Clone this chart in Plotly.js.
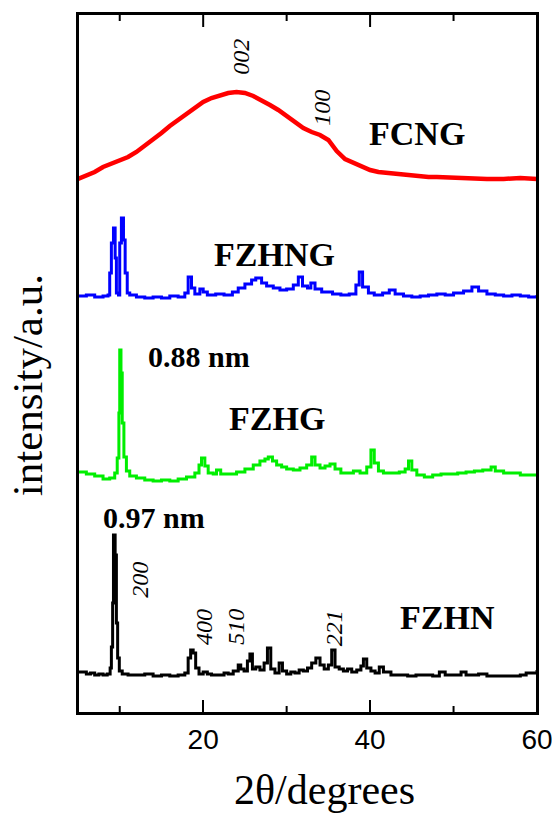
<!DOCTYPE html>
<html>
<head>
<meta charset="utf-8">
<script src="https://cdn.plot.ly/plotly-3.0.1.min.js"></script>
<style>html,body{margin:0;padding:0;background:#fff;}#chart{width:552px;height:815px;}</style>
</head>
<body>
<div id="chart"></div>
<script>
// 2θ (degrees) and stacked intensities (a.u., offset already included)
const fcngX = [5,6,7,8,9,10,11,12,13,14,15,16,17,18,19,20,21,22,23,24,25,26,27,28,29,30,31,32,33,34,35,36,37,38,39,40,41,42,43,44,45,46,47,48,50,52,54,56,58,60];
const fcngY = [534,537,541,546,549,553,556,561,567,574,580,587,593,600,606,611,615,618,620,621,620,617,613,608,603,597,591,585,581,578,573,562,554,550,546,543,541,540,539,538,537,537,536,536,535,535,534,534,535,534];

const fzhngX = [5,6,7,8,8.6,8.8,9.0,9.25,9.45,9.6,9.85,10.0,10.2,10.45,10.65,10.9,11.2,12,13,14,15,16,17,17.8,18.2,18.6,19,19.6,20,20.5,21.5,22.5,23.5,24.2,25,25.8,26.3,27,27.6,28.4,29.2,30,30.8,31.4,31.9,32.5,32.9,33.4,34.2,35.5,36.5,37.5,38.3,38.7,39.1,39.8,40.5,41.5,42.3,43,44,45,46,47,48,49,50,51.2,52.2,53,54,55,56,57,58,59,60];
const fzhngY = [417,418,416,417,418,440,470,485,455,420,418,470,495,473,440,420,418,416,415,416,415,417,416,420,436,425,419,424,421,418,419,418,421,425,429,433,435,430,427,425,423,424,428,436,427,425,430,424,421,419,418,419,428,441,426,420,418,420,423,419,417,416,417,418,419,418,420,422,426,422,419,418,417,418,417,416,418];

const fzhgX = [5,6,7,8,8.8,9.4,9.7,9.9,10.0,10.15,10.3,10.5,10.8,11.2,12,13,14,15,16,17,18,19,19.5,19.8,20.2,20.6,21.2,21.6,22.1,23,24,25,26,26.8,27.4,27.8,28.3,28.8,29.4,30,30.8,31.6,32.4,33,33.4,34,34.6,35.2,35.8,36.5,37.2,38,38.8,39.6,40.1,40.5,41,41.6,42.5,43.5,44.2,44.6,45,45.6,46.5,47.5,48.5,49.5,50.5,51.5,52.5,53.5,54.5,55,56,57,58,59,60];
const fzhgY = [241,239,237,234,235,240,255,300,363,340,290,256,242,237,235,233,232,233,232,234,236,240,248,255,247,240,239,243,239,239,241,244,248,252,254,256,252,248,246,244,243,245,248,256,248,245,247,249,244,240,240,242,240,246,263,250,242,240,240,241,244,252,243,238,236,238,239,239,240,241,242,243,246,242,240,240,238,238,237];

const fzhnX = [5,6,6.5,7,7.5,8,8.5,8.85,9.0,9.15,9.25,9.45,9.6,9.75,9.95,10.3,11,12,13,14,15,16,17,17.8,18.2,18.5,18.8,19.1,19.5,20,20.5,21,22,22.5,23,23.6,24.2,24.5,24.9,25.3,25.6,25.9,26.3,26.8,27.3,27.7,28.1,28.6,29.1,29.5,30,30.5,31,31.5,32,32.5,33,33.5,34,34.5,35,35.4,35.8,36.3,36.8,37.3,37.8,38.4,38.9,39.2,39.6,40.1,40.6,41.1,41.6,42.5,43.5,44.5,45.5,46.5,47.5,48.3,49,50,50.9,51.5,52.5,53,54,55,56,57,58,58.7,59.3,60];
const fzhnY = [41,39,40,38,39,38,39,45,66,110,178,158,90,55,42,39,38,38,39,37,38,37,38,40,55,63,60,45,39,41,39,38,38,40,39,42,48,44,42,52,59,44,46,43,50,65,44,40,50,42,39,41,40,43,42,45,50,55,48,44,48,63,46,44,42,44,41,43,47,54,45,42,40,46,41,38,38,37,38,38,37,41,38,38,41,38,38,39,37,37,37,37,38,40,40,43];

const sampleNames = ['FCNG','FZHNG','FZHG','FZHN'];
const sampleColors = ['#ff0000','#0000ff','#00ee00','#000000'];

// annotation labels
const sampleLabelX = [45.6, 28.6, 28.9, 49.3];
const sampleLabelY = [580, 459, 295, 96];
const spacingText = ['0.88 nm','0.97 nm'];
const spacingX = [19.5, 14.1];
const spacingY = [357, 196];
const hklText = ['002','100','200','400','510','221'];
const hklX = [24.5, 34.2, 12.4, 20.1, 23.9, 35.7];
const hklY = [656, 605, 133, 86, 86, 85];
const xTitle = '2θ/degrees';
const yTitle = 'intensity/a.u.';
const xRange = [5, 60];
const yRange = [0, 699];
const majorTicks = [20, 40, 60];
const minorTicks = [10, 30, 50];

const W = 552, H = 815, M = {l:78, r:15, t:14, b:102};
const plotW = W - M.l - M.r, plotH = H - M.t - M.b;

const series = [[fcngX,fcngY],[fzhngX,fzhngY],[fzhgX,fzhgY],[fzhnX,fzhnY]];
const widths = [4.5, 3, 3, 3];
const lineShapes = ['linear','hv','hv','hv'];
const traces = series.map((s,i)=>({
  x: s[0], y: s[1], type:'scatter', mode:'lines', name: sampleNames[i],
  line:{color: sampleColors[i], width: widths[i], shape: lineShapes[i]}
}));

// inside ticks on the top edge and short minor ticks on both edges (from the tick lists and the range)
const tx = [], ty = [];
majorTicks.forEach(v=>{ tx.push(v, v, null); ty.push(yRange[1], yRange[1]-13, null); });
minorTicks.forEach(v=>{ tx.push(v, v, null, v, v, null); ty.push(yRange[1], yRange[1]-7, null, yRange[0], yRange[0]+7, null); });
traces.push({x:tx, y:ty, type:'scatter', mode:'lines', name:'ticks', line:{color:'#000', width:2}, showlegend:false});

const serif = 'Liberation Serif, Times New Roman, serif';
const ann = [];
// axis box drawn as a bordered, empty annotation the size of the plot area
ann.push({x:0.5, y:0.5, xref:'paper', yref:'paper', xanchor:'center', yanchor:'middle', text:' ', showarrow:false,
  width:plotW-2, height:plotH-2, borderpad:0, borderwidth:2, bordercolor:'#000', font:{size:2}});
sampleNames.forEach((t,i)=>ann.push({x:sampleLabelX[i], y:sampleLabelY[i], xref:'x', yref:'y', text:'<b>'+t+'</b>', showarrow:false,
  font:{family:serif, size:34, color:'#000'}}));
spacingText.forEach((t,i)=>ann.push({x:spacingX[i], y:spacingY[i], xref:'x', yref:'y', text:'<b>'+t+'</b>', showarrow:false,
  font:{family:serif, size:30, color:'#000'}}));
hklText.forEach((t,i)=>ann.push({x:hklX[i], y:hklY[i], xref:'x', yref:'y', text:'<i>'+t+'</i>', showarrow:false, textangle:-90,
  font:{family:serif, size:24, color:'#000'}}));
ann.push({x:0.538, y:-0.110, xref:'paper', yref:'paper', xanchor:'center', yanchor:'middle', text:xTitle, showarrow:false,
  font:{family:serif, size:42, color:'#000'}});
ann.push({x:-0.111, y:0.469, xref:'paper', yref:'paper', xanchor:'center', yanchor:'middle', text:yTitle, showarrow:false, textangle:-90,
  font:{family:serif, size:43, color:'#000'}});

const layout = {
  width:W, height:H,
  margin:M,
  showlegend:false,
  xaxis:{
    range:xRange, tickvals:majorTicks, ticks:'inside', ticklen:13, tickwidth:2, tickcolor:'#000',
    showline:true, linewidth:2, linecolor:'#000', mirror:true,
    showgrid:false, zeroline:false, ticklabeloverflow:'allow',
    tickfont:{family:'Liberation Sans, Arial, sans-serif', size:28, color:'#000'}
  },
  yaxis:{
    range:yRange, showticklabels:false,
    showline:true, linewidth:2, linecolor:'#000', mirror:true,
    showgrid:false, zeroline:false
  },
  annotations: ann
};
Plotly.newPlot('chart', traces, layout, {staticPlot:true, displayModeBar:false});
</script>
</body>
</html>
